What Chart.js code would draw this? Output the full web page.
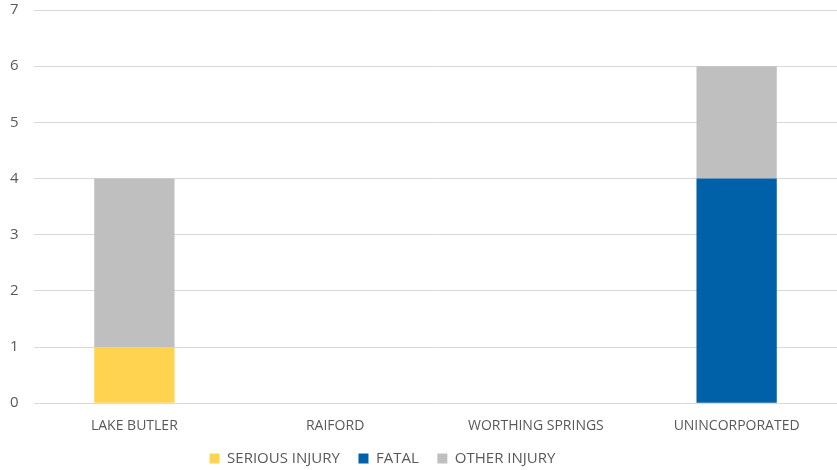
<!DOCTYPE html>
<html>
<head>
<meta charset="utf-8">
<script src="https://cdn.jsdelivr.net/npm/chart.js@4"></script>
<style>
  html, body { margin: 0; padding: 0; background: #fff; }
  #wrap { width: 837px; height: 470px; }
</style>
</head>
<body>
<div id="wrap"><canvas id="chart"></canvas></div>
<script>
const categories = ['LAKE BUTLER', 'RAIFORD', 'WORTHING SPRINGS', 'UNINCORPORATED'];
const seriousInjury = [1, 0, 0, 0];
const fatal = [0, 0, 0, 4];
const otherInjury = [3, 0, 0, 2];
const yTicks = [0, 1, 2, 3, 4, 5, 6, 7];

const fontFamily = "'Open Sans', 'Liberation Sans', sans-serif";

// nudge the legend to where the original puts it (left of centre, a bit lower)
const legendOffset = {
  id: 'legendOffset',
  afterLayout(chart) {
    const lg = chart.legend;
    lg.left -= 41; lg.right -= 41;
    lg.top += 6; lg.bottom += 6;
  },
};

// Create chart
new Chart(document.getElementById('chart'), {
  type: 'bar',
  data: {
    labels: categories,
    datasets: [
      { label: 'SERIOUS INJURY', data: seriousInjury, backgroundColor: '#FFD34F' },
      { label: 'FATAL', data: fatal, backgroundColor: '#0061A9' },
      { label: 'OTHER INJURY', data: otherInjury, backgroundColor: '#BFBFBF' },
    ],
  },
  plugins: [legendOffset],
  options: {
    responsive: true,
    maintainAspectRatio: false,
    animation: false,
    layout: { padding: { top: 10, right: 0, left: 10, bottom: 0 } },
    datasets: { bar: { categoryPercentage: 0.8, barPercentage: 0.5 } },
    scales: {
      x: {
        stacked: true,
        grid: { display: false },
        border: { display: false },
        ticks: { color: '#595959', font: { family: fontFamily, size: 14 }, padding: 6 },
        afterFit: (axis) => { axis.height += 2; },
      },
      y: {
        stacked: true,
        min: 0,
        max: 7,
        afterBuildTicks: (axis) => { axis.ticks = yTicks.map(v => ({ value: v })); },
        afterFit: (axis) => { axis.width = 24; },
        grid: { color: '#D9D9D9', lineWidth: 1, drawTicks: false },
        border: { display: false },
        ticks: { color: '#595959', font: { family: fontFamily, size: 15 }, padding: 0, crossAlign: 'far' },
      },
    },
    plugins: {
      legend: {
        position: 'bottom',
        labels: {
          color: '#595959',
          font: { family: fontFamily, size: 15 },
          boxWidth: 10,
          boxHeight: 10,
          padding: 3,
          // extra room between legend items, like the original
          generateLabels: (chart) => {
            const items = Chart.defaults.plugins.legend.labels.generateLabels(chart);
            items.forEach((it, i) => { if (i < items.length - 1) it.text += '    '; });
            return items;
          },
        },
      },
      tooltip: { enabled: false },
    },
  },
});
</script>
</body>
</html>
